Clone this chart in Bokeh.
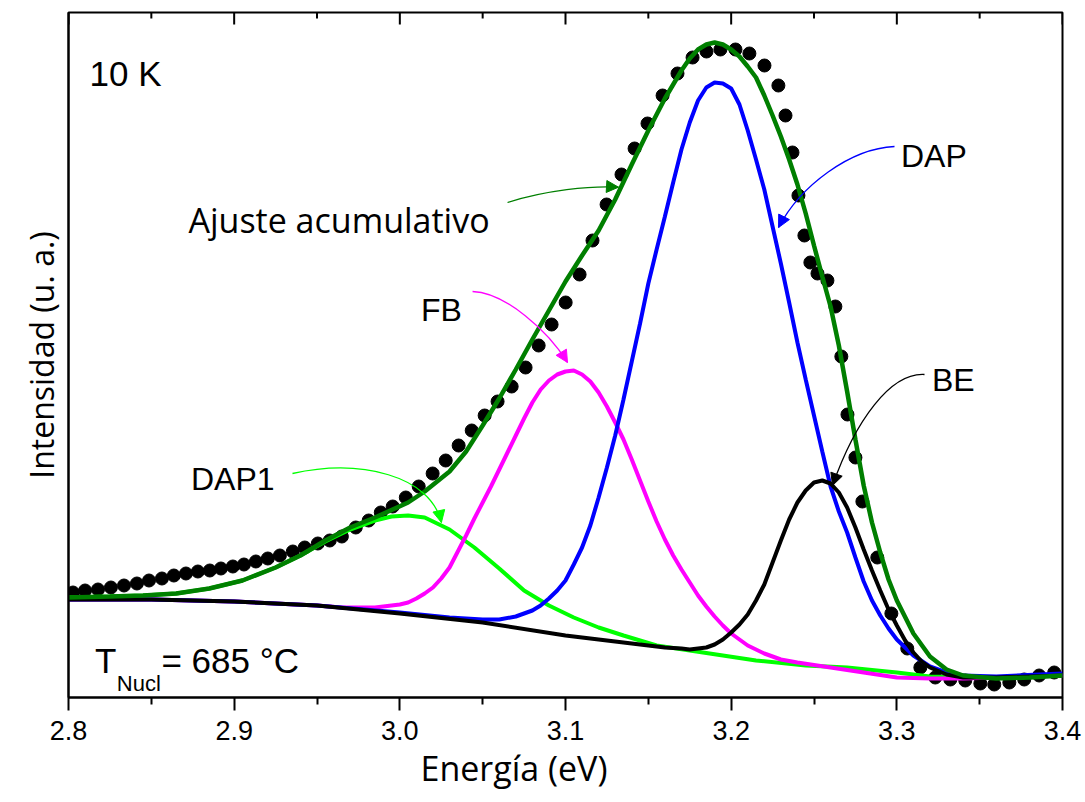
from bokeh.plotting import figure
from bokeh.models import Range1d, FixedTicker, Label, Arrow, NormalHead, PrintfTickFormatter, Title
from bokeh.embed import file_html
from bokeh.resources import INLINE

# ---- measured photoluminescence spectrum (10 K) ----
energy_ev = [2.8027, 2.8100, 2.8178, 2.8256, 2.8335, 2.8413, 2.8486, 2.8564, 2.8636, 2.8709,
             2.8781, 2.8853, 2.8920, 2.8992, 2.9059, 2.9131, 2.9203, 2.9276, 2.9354, 2.9426,
             2.9505, 2.9577, 2.9650, 2.9734, 2.9812, 2.9885, 2.9957, 3.0036, 3.0114, 3.0198,
             3.0277, 3.0355, 3.0434, 3.0512, 3.0590, 3.0675, 3.0759, 3.0838, 3.0916, 3.1001,
             3.1085, 3.1163, 3.1248, 3.1338, 3.1417, 3.1495, 3.1586, 3.1676, 3.1767, 3.1851,
             3.1935, 3.2026, 3.2110, 3.2201, 3.2285, 3.2328, 3.2370, 3.2406, 3.2442, 3.2478,
             3.2521, 3.2581, 3.2629, 3.2665, 3.2702, 3.2750, 3.2792, 3.2882, 3.2967, 3.3063,
             3.3142, 3.3232, 3.3323, 3.3413, 3.3504, 3.3588, 3.3679, 3.3769, 3.3859, 3.3950]
intensity = [105, 107, 108, 110, 112, 114, 117, 119, 122, 124,
             126, 127, 129, 131, 133, 136, 139, 142, 146, 150,
             154, 157, 161, 170, 177, 185, 191, 200, 211, 224,
             237, 252, 267, 282, 296, 311, 330, 352, 373, 395,
             423, 457, 493, 523, 549, 574, 602, 624, 640, 646,
             648, 648, 644, 632, 612, 582, 545, 502, 462, 435,
             424, 417, 391, 341, 283, 240, 196, 140, 84, 49,
             30, 20, 18, 17, 14, 13, 15, 18, 22, 25]

# ---- cumulative fit ----
fit_e = [2.800, 2.825, 2.845, 2.865, 2.885, 2.905, 2.925, 2.940, 2.955, 2.970,
         2.985, 3.005, 3.015, 3.030, 3.040, 3.050, 3.060, 3.070, 3.080, 3.090,
         3.100, 3.110, 3.120, 3.130, 3.140, 3.150, 3.160, 3.165, 3.170, 3.175,
         3.180, 3.185, 3.190, 3.195, 3.200, 3.205, 3.210, 3.215, 3.220, 3.225,
         3.230, 3.235, 3.240, 3.245, 3.250, 3.255, 3.260, 3.265, 3.270, 3.275,
         3.280, 3.285, 3.290, 3.295, 3.300, 3.310, 3.320, 3.330, 3.340, 3.360,
         3.380, 3.400]
fit_i = [100, 101, 102, 104, 109, 117, 130, 142, 157, 170,
         180, 195, 206, 226, 246, 272, 299, 328, 358, 387,
         416, 442, 467, 498, 533, 567, 599, 613, 627, 639,
         648, 653, 655, 653, 648, 641, 631, 620, 602, 582,
         561, 538, 513, 484, 452, 421, 391, 352, 306, 258,
         212, 175, 145, 118, 97, 64, 41, 28, 22, 19,
         20, 22]

# ---- fitted components (each shown on top of the background) ----
dap1_e = [2.800, 2.825, 2.845, 2.865, 2.885, 2.905, 2.925, 2.940, 2.955, 2.970,
          2.985, 2.995, 3.005, 3.015, 3.025, 3.030, 3.045, 3.060, 3.075, 3.090,
          3.105, 3.120, 3.135, 3.155, 3.175, 3.195, 3.215, 3.245, 3.270, 3.300,
          3.320, 3.340, 3.360, 3.400]
dap1_i = [100, 101, 102, 104, 109, 117, 130, 142, 156, 168,
          177, 181, 182, 180, 172, 168, 150, 129, 107, 92,
          80, 70, 62, 52, 47, 42, 37, 32, 30, 25,
          21, 20, 20, 22]

fb_e = [2.800, 2.850, 2.900, 2.950, 2.965, 2.985, 3.000, 3.005, 3.010, 3.015,
        3.020, 3.025, 3.030, 3.035, 3.040, 3.045, 3.050, 3.055, 3.060, 3.065,
        3.070, 3.075, 3.080, 3.085, 3.090, 3.095, 3.100, 3.105, 3.110, 3.115,
        3.120, 3.125, 3.130, 3.135, 3.140, 3.145, 3.150, 3.155, 3.160, 3.165,
        3.170, 3.175, 3.180, 3.185, 3.190, 3.195, 3.200, 3.210, 3.220, 3.230,
        3.240, 3.260, 3.280, 3.300, 3.320, 3.340, 3.360, 3.400]
fb_i = [98, 98, 96, 92, 90, 90, 93, 95, 99, 104,
        110, 119, 130, 146, 162, 179, 195, 211, 228, 245,
        262, 279, 295, 308, 317, 323, 326, 327, 323, 316,
        305, 291, 275, 258, 238, 217, 196, 176, 158, 142,
        128, 115, 102, 91, 81, 72, 64, 52, 44, 38,
        35, 30, 25, 20, 19, 19, 20, 22]

dap_e = [2.800, 2.850, 2.900, 2.950, 3.000, 3.030, 3.050, 3.060, 3.070, 3.080,
         3.085, 3.090, 3.095, 3.100, 3.105, 3.110, 3.115, 3.120, 3.125, 3.130,
         3.135, 3.140, 3.145, 3.150, 3.155, 3.160, 3.165, 3.170, 3.175, 3.180,
         3.185, 3.190, 3.195, 3.200, 3.205, 3.210, 3.215, 3.220, 3.225, 3.230,
         3.235, 3.240, 3.245, 3.250, 3.255, 3.260, 3.265, 3.270, 3.275, 3.280,
         3.285, 3.290, 3.295, 3.300, 3.310, 3.320, 3.330, 3.340, 3.360, 3.400]
dap_i = [98, 98, 96, 92, 85, 80, 78, 78, 81, 87,
         92, 99, 107, 117, 133, 150, 172, 200, 230, 262,
         298, 336, 374, 414, 448, 481, 515, 548, 575, 597,
         610, 615, 614, 609, 593, 567, 538, 508, 471, 434,
         395, 355, 318, 282, 246, 211, 186, 165, 140, 116,
         97, 82, 69, 58, 42, 31, 25, 22, 21, 24]

be_e = [2.800, 2.850, 2.900, 2.950, 3.000, 3.050, 3.100, 3.150, 3.160, 3.170,
        3.175, 3.180, 3.185, 3.190, 3.195, 3.200, 3.205, 3.210, 3.215, 3.220,
        3.225, 3.230, 3.235, 3.240, 3.245, 3.250, 3.255, 3.260, 3.265, 3.270,
        3.275, 3.280, 3.285, 3.290, 3.295, 3.300, 3.305, 3.310, 3.315, 3.320,
        3.330, 3.340, 3.360, 3.380, 3.400]
be_i = [98, 98, 96, 92, 84, 75, 62, 52, 50, 49,
        48, 49, 50, 53, 58, 65, 73, 83, 97, 113,
        135, 157, 178, 195, 207, 215, 217, 214, 205, 190,
        170, 148, 127, 107, 88, 72, 57, 45, 36, 30,
        23, 20, 20, 21, 22]

x_ticks = [2.8, 2.9, 3.0, 3.1, 3.2, 3.3, 3.4]
x_minor_ticks = [2.85, 2.95, 3.05, 3.15, 3.25, 3.35]

SANS = "Liberation Sans"
OPEN = "Open Sans"
Y_TOP = 685  # upper end of the intensity range (1 unit = 1 px of frame height)

p = figure(frame_width=994, frame_height=685,
           min_border_left=68, min_border_right=23, min_border_top=12, min_border_bottom=105,
           x_range=Range1d(2.8, 3.4), y_range=Range1d(0, Y_TOP),
           output_backend="svg", toolbar_location=None,
           background_fill_color="white", border_fill_color="white")
p.grid.visible = False
p.outline_line_color = "black"
p.outline_line_width = 2

xa = p.xaxis[0]
xa.ticker = FixedTicker(ticks=x_ticks, minor_ticks=x_minor_ticks)
xa.formatter = PrintfTickFormatter(format="%.1f")
xa.axis_line_color = "black"
xa.axis_line_width = 2
xa.major_tick_in = 0
xa.major_tick_out = 13
xa.minor_tick_in = 0
xa.minor_tick_out = 7
xa.major_tick_line_width = 2
xa.minor_tick_line_width = 2
xa.major_tick_line_color = "black"
xa.minor_tick_line_color = "black"
xa.major_label_text_font = SANS
xa.major_label_text_font_size = "27px"
xa.major_label_text_color = "black"
xa.major_label_standoff = 10

# x axis title, set off to the left of the frame centre
p.add_layout(Title(text="Energía (eV)", align="left", offset=352, standoff=0,
                   text_font=OPEN, text_font_size="34px", text_font_style="normal",
                   text_color="black"), "below")

ya = p.yaxis[0]
ya.ticker = FixedTicker(ticks=[])
ya.major_tick_out = 0
ya.minor_tick_out = 0
ya.axis_line_color = "black"
ya.axis_line_width = 2
ya.axis_label = "Intensidad (u. a.)"
ya.axis_label_text_font = OPEN
ya.axis_label_text_font_size = "32px"
ya.axis_label_text_font_style = "normal"
ya.axis_label_text_color = "black"
ya.axis_label_standoff = 6

# inward ticks along the top edge of the frame
p.segment(x0=x_ticks, y0=[Y_TOP] * len(x_ticks), x1=x_ticks, y1=[Y_TOP - 12] * len(x_ticks),
          line_color="black", line_width=2)
p.segment(x0=x_minor_ticks, y0=[Y_TOP] * len(x_minor_ticks), x1=x_minor_ticks,
          y1=[Y_TOP - 6] * len(x_minor_ticks), line_color="black", line_width=2)

# ---- data and fit curves ----
p.scatter(energy_ev, intensity, size=13, color="black")
p.line(dap1_e, dap1_i, line_color="#00FF00", line_width=4)
p.line(fb_e, fb_i, line_color="#FF00FF", line_width=4)
p.line(dap_e, dap_i, line_color="#0000FF", line_width=4)
p.line(be_e, be_i, line_color="black", line_width=4)
p.line(fit_e, fit_i, line_color="#007F00", line_width=4.5)

# ---- curved pointers ----
def pointer(x0, y0, cx0, cy0, cx1, cy1, x1, y1, hx, hy, color):
    p.bezier(x0=[x0], y0=[y0], cx0=[cx0], cy0=[cy0], cx1=[cx1], cy1=[cy1], x1=[x1], y1=[y1],
             line_color=color, line_width=1.3)
    p.add_layout(Arrow(x_start=hx, y_start=hy, x_end=x1, y_end=y1, line_color=color, line_width=1.3,
                       end=NormalHead(size=12, fill_color=color, line_color=color, line_width=1)))

pointer(3.0650, 495, 3.0879, 507, 3.1151, 512, 3.1320, 510.3, 3.1247, 511, "#007F00")
pointer(3.2986, 551, 3.2720, 549, 3.2418, 512, 3.2286, 470, 3.2314, 479, "#0000FF")
pointer(3.0439, 406, 3.0638, 405, 3.0897, 366, 3.1012, 335, 3.0981, 343.5, "#FF00FF")
pointer(2.9352, 224, 2.9763, 239, 3.0185, 222, 3.0251, 175, 3.0238, 184.7, "#00FF00")
pointer(3.3167, 323, 3.2962, 325, 3.2750, 277, 3.2612, 212, 3.2632, 221.4, "black")

# ---- text ----
def note(x, y, text, size, font=SANS):
    p.add_layout(Label(x=x, y=y, text=text, text_font=font, text_font_size=size,
                       text_color="black", text_baseline="alphabetic", text_align="left"))

note(2.8127, 624, "10 K", "35px")
note(2.8724, 478, "Ajuste acumulativo", "34px", OPEN)
note(3.0128, 388, "FB", "32px")
note(3.3025, 542, "DAP", "32px")
note(3.3212, 318, "BE", "32px")
note(2.8739, 219, "DAP1", "32px")
note(2.8160, 37, "T", "35px")
note(2.8292, 14, "Nucl", "22px")
note(2.8561, 37, "= 685 °C", "35px")

open("out.html", "w").write(file_html(p, INLINE))
